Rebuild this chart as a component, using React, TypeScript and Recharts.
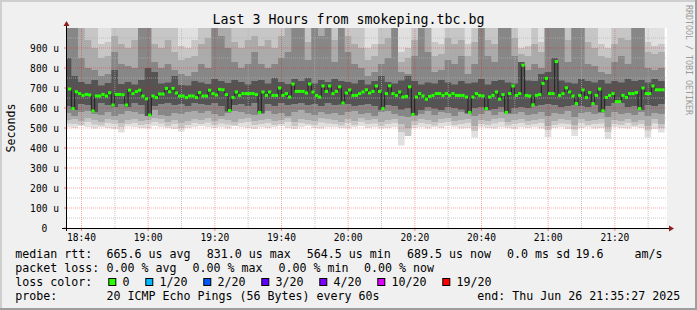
import React from "react";
import { ComposedChart, Area, Line, XAxis, YAxis, CartesianGrid, ReferenceLine } from "recharts";

// times are minutes after 18:00
const X_MIN = 35.65;
const X_MAX = 215.65;
const MEDIAN_START = 35.95;
const SMOKE_START = 34.95;
const SMOKE_STEP = 2;
const SMOKE_TOP = 1000;

const X_TICK_LABELS = ["18:40", "19:00", "19:20", "19:40", "20:00", "20:20", "20:40", "21:00", "21:20"];
const X_MINOR = [50, 70, 90, 110, 130, 150, 170, 190, 210];
const Y_TICKS = [0, 100, 200, 300, 400, 500, 600, 700, 800, 900];
const Y_MINOR = [50, 150, 250, 350, 450, 550, 650, 750, 850, 950];

// median rtt, microseconds, one value per minute
const MEDIAN = [
  695, 597, 681, 672, 663, 668, 665, 585, 660, 660, 668, 660, 676, 615, 668, 668, 666, 615, 689, 672,
  682, 689, 660, 646, 565, 660, 652, 670, 670, 698, 681, 698, 675, 660, 660, 652, 660, 660, 652, 677,
  660, 660, 689, 672, 665, 693, 691, 667, 587, 653, 680, 663, 672, 672, 672, 672, 667, 578, 680, 663,
  680, 663, 663, 700, 663, 672, 655, 720, 683, 683, 683, 675, 720, 680, 663, 655, 710, 683, 710, 672,
  683, 706, 625, 675, 690, 663, 663, 672, 680, 691, 675, 683, 710, 683, 597, 672, 711, 672, 663, 680,
  655, 658, 706, 568, 655, 672, 660, 644, 658, 663, 672, 672, 663, 672, 663, 672, 663, 663, 663, 655,
  578, 655, 672, 663, 660, 597, 655, 663, 680, 644, 667, 578, 672, 710, 663, 672, 814, 663, 660, 616,
  663, 667, 723, 748, 672, 672, 832, 663, 672, 701, 680, 660, 622, 663, 690, 652, 677, 622, 663, 695,
  586, 653, 663, 672, 632, 632, 663, 653, 672, 672, 677, 597, 700, 672, 672, 710, 691, 691, 691,
];

// smoke bands, one value per two minutes (band 0 = lightest/outer, band 4 = darkest/inner)
const SMOKE_LO0 = [
  505, 500, 510, 505, 498, 505, 500, 495, 478, 508, 505, 500, 498, 510, 505, 500, 495, 482, 500, 505,
  510, 505, 500, 505, 498, 510, 505, 500, 495, 505, 500, 505, 510, 500, 495, 505, 510, 500, 498, 505,
  505, 500, 498, 505, 510, 500, 505, 498, 500, 505, 412, 470, 500, 505, 498, 505, 500, 510, 505, 498,
  500, 452, 505, 500, 498, 505, 500, 495, 505, 500, 505, 498, 455, 500, 505, 495, 460, 500, 505, 498,
  500, 445, 505, 500, 498, 505, 500, 452, 495, 478,
];
const SMOKE_LO1 = [
  522, 520, 515, 530, 518, 512, 525, 520, 505, 520, 525, 515, 520, 530, 522, 510, 520, 500, 515, 525,
  520, 528, 515, 522, 518, 512, 525, 530, 515, 520, 525, 515, 520, 530, 510, 525, 520, 515, 528, 522,
  520, 512, 525, 515, 530, 520, 522, 510, 520, 525, 480, 460, 515, 525, 520, 512, 525, 530, 515, 520,
  525, 485, 520, 515, 522, 530, 512, 520, 525, 515, 520, 525, 490, 515, 522, 520, 492, 525, 515, 520,
  522, 480, 520, 515, 525, 512, 520, 488, 522, 500,
];
const SMOKE_HI1 = [
  1000, 1000, 1000, 1000, 1000, 920, 930, 1000, 1000, 1000, 1000, 1000, 1000, 1000, 1000, 1000, 1000, 910, 900, 940,
  1000, 1000, 1000, 1000, 1000, 1000, 1000, 1000, 1000, 1000, 1000, 1000, 1000, 1000, 1000, 1000, 1000, 1000, 1000, 1000,
  1000, 1000, 1000, 1000, 1000, 900, 920, 1000, 1000, 1000, 880, 900, 1000, 1000, 1000, 930, 920, 1000, 1000, 1000,
  920, 1000, 1000, 1000, 1000, 1000, 1000, 1000, 900, 910, 1000, 930, 1000, 1000, 1000, 1000, 1000, 1000, 1000, 1000,
  920, 900, 1000, 1000, 1000, 1000, 1000, 930, 910, 920,
];
const SMOKE_LO2 = [
  540, 545, 535, 550, 540, 530, 545, 540, 525, 540, 545, 535, 540, 550, 545, 530, 540, 525, 535, 545,
  540, 550, 535, 545, 540, 530, 545, 550, 535, 540, 545, 535, 540, 550, 530, 545, 540, 535, 550, 545,
  540, 530, 545, 535, 550, 540, 545, 530, 540, 545, 520, 500, 535, 545, 540, 530, 545, 550, 535, 540,
  545, 510, 540, 535, 545, 550, 530, 540, 545, 535, 540, 545, 510, 535, 545, 540, 515, 545, 535, 540,
  545, 505, 540, 535, 545, 530, 540, 510, 545, 520,
];
const SMOKE_HI2 = [
  1000, 1000, 1000, 940, 900, 850, 860, 960, 920, 900, 940, 1000, 1000, 920, 900, 940, 880, 840, 850, 860,
  920, 950, 1000, 1000, 1000, 930, 900, 940, 960, 910, 940, 900, 960, 1000, 1000, 1000, 930, 1000, 1000, 1000,
  940, 1000, 960, 920, 900, 840, 860, 920, 950, 1000, 830, 850, 940, 1000, 1000, 860, 870, 950, 920, 940,
  860, 930, 1000, 940, 920, 1000, 1000, 950, 870, 860, 920, 880, 1000, 1000, 1000, 940, 1000, 1000, 930, 900,
  860, 850, 920, 950, 940, 1000, 1000, 880, 870, 880,
];
const SMOKE_LO3 = [
  575, 560, 580, 585, 570, 565, 580, 560, 570, 585, 580, 570, 575, 590, 565, 560, 575, 570, 580, 585,
  575, 585, 570, 560, 575, 585, 580, 570, 565, 580, 585, 570, 575, 560, 580, 590, 575, 565, 580, 570,
  575, 565, 580, 585, 570, 575, 560, 580, 585, 570, 560, 555, 575, 570, 585, 565, 580, 575, 560, 580,
  575, 560, 570, 585, 565, 580, 575, 570, 580, 565, 570, 580, 560, 575, 570, 585, 555, 575, 580, 570,
  575, 555, 580, 570, 575, 565, 580, 560, 575, 570,
];
const SMOKE_HI3 = [
  1000, 1000, 850, 800, 790, 760, 770, 880, 820, 810, 800, 1000, 1000, 830, 800, 820, 790, 770, 760, 780,
  820, 800, 1000, 960, 900, 830, 800, 820, 880, 820, 800, 820, 850, 880, 1000, 1000, 840, 1000, 960, 1000,
  830, 1000, 880, 820, 800, 760, 780, 820, 850, 1000, 780, 770, 860, 1000, 880, 780, 790, 840, 820, 860,
  770, 820, 1000, 860, 830, 1000, 1000, 860, 820, 790, 820, 800, 1000, 1000, 1000, 830, 1000, 1000, 820, 810,
  780, 770, 830, 860, 820, 1000, 1000, 800, 790, 800,
];
const SMOKE_LO4 = [
  610, 590, 620, 615, 580, 625, 615, 605, 620, 605, 625, 615, 560, 610, 620, 625, 615, 620, 610, 625,
  620, 615, 625, 610, 582, 615, 620, 610, 625, 572, 620, 610, 625, 615, 620, 625, 615, 620, 610, 625,
  615, 618, 620, 610, 615, 620, 610, 590, 615, 610, 592, 600, 562, 590, 605, 598, 590, 605, 600, 592,
  572, 600, 605, 590, 595, 605, 572, 600, 605, 600, 610, 615, 620, 615, 605, 610, 615, 610, 605, 615,
  580, 610, 625, 625, 605, 610, 590, 615, 610, 620,
];
const SMOKE_HI4 = [
  850, 760, 730, 720, 740, 712, 725, 790, 720, 730, 718, 740, 800, 780, 722, 728, 760, 715, 712, 735,
  728, 720, 745, 735, 725, 740, 730, 718, 735, 740, 722, 750, 730, 720, 745, 735, 750, 722, 740, 730,
  745, 735, 730, 722, 740, 718, 735, 760, 730, 722, 738, 760, 735, 718, 728, 722, 740, 728, 718, 735,
  722, 728, 745, 718, 735, 740, 728, 722, 830, 738, 735, 770, 780, 850, 738, 728, 722, 745, 735, 728,
  740, 722, 735, 728, 745, 735, 740, 728, 745, 735,
];

const LOSS_LABELS = ["0", "1/20", "2/20", "3/20", "4/20", "10/20", "19/20"];
const LOSS_COLORS = ["#26ff00", "#00b8ff", "#0059ff", "#5e00ff", "#7e00ff", "#dd00ff", "#ff0000"];

const RTT_TEXT = ["median rtt:", "665.6 us avg", "831.0 us max", "564.5 us min", "689.5 us now", "0.0 ms sd", "19.6", "am/s"];
const LOSS_TEXT = ["packet loss:", "0.00 % avg", "0.00 % max", "0.00 % min", "0.00 % now"];
const PROBE_TEXT = ["probe:", "20 ICMP Echo Pings (56 Bytes) every 60s", "end: Thu Jun 26 21:35:27 2025"];

// layout
const W = 697;
const H = 310;
const PLOT_LEFT = 67;
const PLOT_TOP = 28;
const PLOT_RIGHT = 667;
const PLOT_BOTTOM = 228;
const STEP_PX = (PLOT_RIGHT - PLOT_LEFT) / (X_MAX - X_MIN);
const MONO = "'DejaVu Sans Mono', monospace";
const CHAR_W = 7;
const RTT_X = [15.3, 106.6, 206.8, 306.8, 407, 507, 575.5, 634.6];
const LOSS_X = [15.3, 106.6, 192.4, 278.5, 364.1];
const PROBE_X = [15.3, 106.6, 477.3];

const toMinutes = (label: string) => {
  const [h, m] = label.split(":").map(Number);
  return (h - 18) * 60 + m;
};
const fmtTime = (v: number) => {
  const h = 18 + Math.floor(v / 60);
  const m = Math.round(v % 60);
  return `${h}:${m < 10 ? "0" : ""}${m}`;
};
const X_TICKS = X_TICK_LABELS.map(toMinutes);

const smokeRows = SMOKE_LO0.map((lo0, i) => ({
  t: SMOKE_START + i * SMOKE_STEP,
  b0: [lo0, SMOKE_TOP],
  b1: [SMOKE_LO1[i], SMOKE_HI1[i]],
  b2: [SMOKE_LO2[i], SMOKE_HI2[i]],
  b3: [SMOKE_LO3[i], SMOKE_HI3[i]],
  b4: [SMOKE_LO4[i], SMOKE_HI4[i]],
}));
// closing row so the last step has a width
smokeRows.push({ ...smokeRows[smokeRows.length - 1], t: SMOKE_START + SMOKE_LO0.length * SMOKE_STEP });

const medianRows = MEDIAN.map((v, i) => ({ t: MEDIAN_START + i, v }));

const BANDS = [
  { key: "b0", color: "#e0e0e0" },
  { key: "b1", color: "#c6c6c6" },
  { key: "b2", color: "#ababab" },
  { key: "b3", color: "#878787" },
  { key: "b4", color: "#545454" },
];

function XTick(p: any) {
  return (
    <text x={p.x} y={p.y} dy={7} textAnchor="middle" fontFamily={MONO} fontSize={9.6} fill="#000">
      {fmtTime(p.payload.value)}
    </text>
  );
}

function YTick(p: any) {
  const v = p.payload.value;
  return (
    <text x={v === 0 ? p.x - 11.6 : p.x} y={p.y} dy={3.5} textAnchor="end" fontFamily={MONO} fontSize={9.6} fill="#000">
      {v === 0 ? "0" : `${v} u`}
    </text>
  );
}

function renderMark(p: any) {
  if (p.cx == null || p.cy == null) return <g key={`m${p.index}`} />;
  return <rect key={`m${p.index}`} x={p.cx} y={p.cy - 1.5} width={STEP_PX} height={3} fill={LOSS_COLORS[0]} />;
}

export default function App() {
  let bx = 108.3;
  const lossItems = LOSS_LABELS.map((label, i) => {
    const item = { label, color: LOSS_COLORS[i], box: bx, text: bx + 15 };
    bx = item.text + label.length * CHAR_W + 15;
    return item;
  });

  return (
    <div style={{ position: "absolute", left: 0, top: 0, width: W, height: H, background: "#f0f0f0", overflow: "hidden" }}>
      <div style={{ position: "absolute", left: 0, top: 0 }}>
        <ComposedChart
          width={W}
          height={H}
          margin={{ top: PLOT_TOP, right: W - PLOT_RIGHT, bottom: H - PLOT_BOTTOM - 20, left: 0 }}
        >
          <CartesianGrid fill="#ffffff" horizontal={false} vertical={false} />
          <XAxis
            type="number"
            dataKey="t"
            domain={[X_MIN, X_MAX]}
            allowDataOverflow
            ticks={X_TICKS}
            interval={0}
            height={20}
            axisLine={false}
            tickSize={3}
            tickMargin={3}
            tickLine={{ stroke: "#f08080" }}
            tick={<XTick />}
          />
          <YAxis
            type="number"
            domain={[0, 1000]}
            allowDataOverflow
            ticks={Y_TICKS}
            interval={0}
            width={PLOT_LEFT}
            axisLine={false}
            tickSize={3}
            tickMargin={5}
            tickLine={{ stroke: "#f08080" }}
            tick={<YTick />}
          />
          {BANDS.map((b) => (
            <Area
              key={b.key}
              data={smokeRows}
              dataKey={b.key}
              type="stepAfter"
              stroke="none"
              fill={b.color}
              fillOpacity={1}
              dot={false}
              activeDot={false}
              isAnimationActive={false}
            />
          ))}
          {X_MINOR.map((x) => (
            <ReferenceLine key={`xm${x}`} x={x} stroke="#b0b0b0" strokeOpacity={0.7} strokeDasharray="1 1" />
          ))}
          {Y_MINOR.map((y) => (
            <ReferenceLine key={`ym${y}`} y={y} stroke="#b0b0b0" strokeOpacity={0.7} strokeDasharray="1 1" />
          ))}
          {X_TICKS.map((x) => (
            <ReferenceLine key={`xM${x}`} x={x} stroke="#ff0000" strokeOpacity={0.35} strokeDasharray="1 1" />
          ))}
          {Y_TICKS.filter((y) => y > 0).map((y) => (
            <ReferenceLine key={`yM${y}`} y={y} stroke="#ff0000" strokeOpacity={0.35} strokeDasharray="1 1" />
          ))}
          <Line
            data={medianRows}
            dataKey="v"
            type="stepAfter"
            stroke="#202020"
            strokeWidth={1}
            dot={renderMark}
            activeDot={false}
            isAnimationActive={false}
          />
        </ComposedChart>
      </div>
      <svg width={W} height={H} style={{ position: "absolute", left: 0, top: 0, pointerEvents: "none" }}>
        <rect x={0} y={0} width={W} height={2} fill="#cfcfcf" />
        <rect x={0} y={0} width={2} height={H} fill="#cfcfcf" />
        <rect x={0} y={H - 2} width={W} height={2} fill="#9e9e9e" />
        <rect x={W - 2} y={0} width={2} height={H} fill="#9e9e9e" />

        <line x1={PLOT_LEFT - 0.5} y1={PLOT_TOP - 3} x2={PLOT_LEFT - 0.5} y2={PLOT_BOTTOM + 3} stroke="#000" />
        <line x1={PLOT_LEFT - 5} y1={PLOT_BOTTOM + 0.5} x2={PLOT_RIGHT + 4} y2={PLOT_BOTTOM + 0.5} stroke="#000" />
        <polygon
          points={`${PLOT_LEFT - 3.5},${PLOT_TOP - 2} ${PLOT_LEFT + 2.5},${PLOT_TOP - 2} ${PLOT_LEFT - 0.5},${PLOT_TOP - 7}`}
          fill="#8f1d1d"
        />
        <polygon
          points={`${PLOT_RIGHT + 2},${PLOT_BOTTOM - 2.5} ${PLOT_RIGHT + 2},${PLOT_BOTTOM + 3.5} ${PLOT_RIGHT + 7},${PLOT_BOTTOM + 0.5}`}
          fill="#8f1d1d"
        />

        <text x={W / 2} y={24} textAnchor="middle" fontFamily={MONO} fontSize={13.3} fill="#000">
          Last 3 Hours from smokeping.tbc.bg
        </text>
        <text
          transform={`translate(14.5, ${(PLOT_TOP + PLOT_BOTTOM) / 2}) rotate(-90)`}
          textAnchor="middle"
          fontFamily={MONO}
          fontSize={11.63}
          fill="#000"
        >
          Seconds
        </text>
        <text transform="translate(685.5, 5) rotate(90)" fontFamily={MONO} fontSize={8.3} fill="#9a9a9a">
          RRDTOOL / TOBI OETIKER
        </text>

        {RTT_TEXT.map((s, i) => (
          <text key={`r${i}`} x={RTT_X[i]} y={258} fontFamily={MONO} fontSize={11.63} fill="#000">{s}</text>
        ))}
        {LOSS_TEXT.map((s, i) => (
          <text key={`l${i}`} x={LOSS_X[i]} y={272} fontFamily={MONO} fontSize={11.63} fill="#000">{s}</text>
        ))}
        <text x={15.3} y={286} fontFamily={MONO} fontSize={11.63} fill="#000">loss color:</text>
        {lossItems.map((it) => (
          <g key={it.label}>
            <rect x={it.box + 0.5} y={278.5} width={7} height={7} fill={it.color} stroke="#000" strokeWidth={1} />
            <text x={it.text - 0.7} y={286} fontFamily={MONO} fontSize={11.63} fill="#000">{it.label}</text>
          </g>
        ))}
        {PROBE_TEXT.map((s, i) => (
          <text key={`p${i}`} x={PROBE_X[i]} y={300} fontFamily={MONO} fontSize={11.63} fill="#000">{s}</text>
        ))}
      </svg>
    </div>
  );
}
